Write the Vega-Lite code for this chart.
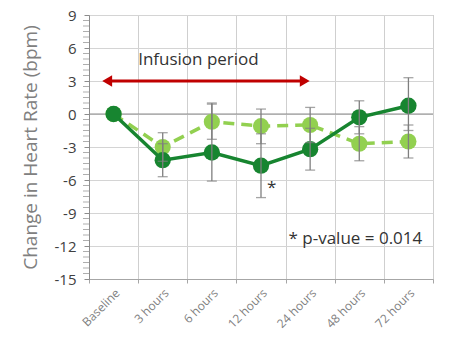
{
  "$schema": "https://vega.github.io/schema/vega-lite/v6.json",
  "width": 344,
  "height": 264,
  "autosize": {"type": "none"},
  "padding": {"left": 89, "top": 15, "right": 16, "bottom": 75},
  "background": "white",
  "config": {"view": {"stroke": "#a6a6a6"}, "font": "Open Sans"},
  "datasets": {
    "series": [
      {"t": 0, "label": "Baseline", "series": "Series 1", "value": 0, "lo": null, "hi": null},
      {"t": 1, "label": "3 hours", "series": "Series 1", "value": -4.2, "lo": -5.7, "hi": -2.7},
      {"t": 2, "label": "6 hours", "series": "Series 1", "value": -3.5, "lo": -6.1, "hi": 1.0},
      {"t": 3, "label": "12 hours", "series": "Series 1", "value": -4.7, "lo": -7.6, "hi": -1.8},
      {"t": 4, "label": "24 hours", "series": "Series 1", "value": -3.2, "lo": -5.1, "hi": -1.3},
      {"t": 5, "label": "48 hours", "series": "Series 1", "value": -0.3, "lo": -1.8, "hi": 1.2},
      {"t": 6, "label": "72 hours", "series": "Series 1", "value": 0.75, "lo": -1.5, "hi": 3.3},
      {"t": 0, "label": "Baseline", "series": "Series 2", "value": 0, "lo": null, "hi": null},
      {"t": 1, "label": "3 hours", "series": "Series 2", "value": -3.0, "lo": -4.3, "hi": -1.7},
      {"t": 2, "label": "6 hours", "series": "Series 2", "value": -0.7, "lo": -2.3, "hi": 0.9},
      {"t": 3, "label": "12 hours", "series": "Series 2", "value": -1.1, "lo": -2.7, "hi": 0.45},
      {"t": 4, "label": "24 hours", "series": "Series 2", "value": -1.0, "lo": -2.6, "hi": 0.6},
      {"t": 5, "label": "48 hours", "series": "Series 2", "value": -2.7, "lo": -4.25, "hi": -1.15},
      {"t": 6, "label": "72 hours", "series": "Series 2", "value": -2.5, "lo": -4.0, "hi": -1.0}
    ],
    "minorTicks": [
      {"t": -0.5, "value": -14.5}, {"t": -0.5, "value": -14}, {"t": -0.5, "value": -13.5}, {"t": -0.5, "value": -13}, {"t": -0.5, "value": -12.5},
      {"t": -0.5, "value": -11.5}, {"t": -0.5, "value": -11}, {"t": -0.5, "value": -10.5}, {"t": -0.5, "value": -10}, {"t": -0.5, "value": -9.5},
      {"t": -0.5, "value": -8.5}, {"t": -0.5, "value": -8}, {"t": -0.5, "value": -7.5}, {"t": -0.5, "value": -7}, {"t": -0.5, "value": -6.5},
      {"t": -0.5, "value": -5.5}, {"t": -0.5, "value": -5}, {"t": -0.5, "value": -4.5}, {"t": -0.5, "value": -4}, {"t": -0.5, "value": -3.5},
      {"t": -0.5, "value": -2.5}, {"t": -0.5, "value": -2}, {"t": -0.5, "value": -1.5}, {"t": -0.5, "value": -1}, {"t": -0.5, "value": -0.5},
      {"t": -0.5, "value": 0.5}, {"t": -0.5, "value": 1}, {"t": -0.5, "value": 1.5}, {"t": -0.5, "value": 2}, {"t": -0.5, "value": 2.5},
      {"t": -0.5, "value": 3.5}, {"t": -0.5, "value": 4}, {"t": -0.5, "value": 4.5}, {"t": -0.5, "value": 5}, {"t": -0.5, "value": 5.5},
      {"t": -0.5, "value": 6.5}, {"t": -0.5, "value": 7}, {"t": -0.5, "value": 7.5}, {"t": -0.5, "value": 8}, {"t": -0.5, "value": 8.5}
    ]
  },
  "resolve": {"scale": {"x": "independent"}, "axis": {"x": "independent"}},
  "encoding": {
    "y": {
      "field": "value", "type": "quantitative",
      "scale": {"domain": [-15, 9], "nice": false, "zero": false},
      "axis": {
        "title": "Change in Heart Rate (bpm)",
        "titleFont": "Open Sans",
        "titleFontSize": 19,
        "titleFontWeight": "normal",
        "titleColor": "#808080",
        "titlePadding": 14,
        "values": [-15, -12, -9, -6, -3, 0, 3, 6, 9],
        "labelExpr": "'' + datum.value",
        "labelFontSize": 15,
        "labelColor": "#404040",
        "labelPadding": 8,
        "labelFlush": false,
        "labelOverlap": false,
        "grid": true,
        "gridColor": "#d4d4d4",
        "tickSize": 5,
        "tickColor": "#8c8c8c",
        "domainColor": "#8c8c8c"
      }
    }
  },
  "layer": [
    {
      "data": {"values": [{"value": 0}]},
      "mark": {"type": "rule", "color": "#8c8c8c", "strokeWidth": 1.2},
      "encoding": {}
    },
    {
      "data": {"name": "minorTicks"},
      "mark": {"type": "tick", "orient": "horizontal", "color": "#8c8c8c", "thickness": 1, "size": 6, "xOffset": -3},
      "encoding": {
        "x": {"field": "t", "type": "quantitative", "scale": {"domain": [-0.5, 6.5], "nice": false, "zero": false}, "axis": null}
      }
    },
    {
      "data": {"name": "series"},
      "encoding": {
        "x": {
          "field": "label", "type": "nominal",
          "sort": ["Baseline", "3 hours", "6 hours", "12 hours", "24 hours", "48 hours", "72 hours"],
          "scale": {"type": "band", "paddingInner": 0, "paddingOuter": 0},
          "axis": {
            "title": null,
            "labelAngle": -45,
            "labelFontSize": 12,
            "labelColor": "#7f7f7f",
            "labelPadding": 4,
            "grid": true,
            "gridColor": "#cfcfcf",
            "gridOpacity": 1,
            "gridWidth": 1,
            "tickBand": "extent",
            "ticks": true,
            "tickSize": 4,
            "tickColor": "#a6a6a6",
            "domainColor": "#a6a6a6"
          }
        }
      },
      "layer": [
        {
          "transform": [{"filter": "datum.series === 'Series 2'"}],
          "mark": {"type": "line", "color": "#92d050", "strokeWidth": 3.5, "strokeDash": [11, 7]}
        },
        {
          "transform": [{"filter": "datum.series === 'Series 2'"}],
          "mark": {"type": "circle", "color": "#92d050", "size": 260, "opacity": 1}
        },
        {
          "transform": [{"filter": "datum.series === 'Series 1'"}],
          "mark": {"type": "line", "color": "#178530", "strokeWidth": 3.5}
        },
        {
          "transform": [{"filter": "datum.series === 'Series 1'"}],
          "mark": {"type": "circle", "color": "#178530", "size": 265, "opacity": 1}
        },
        {
          "transform": [{"filter": "datum.lo != null"}],
          "mark": {"type": "rule", "color": "#7f7f7f", "strokeWidth": 1.3},
          "encoding": {
            "y": {"field": "lo", "type": "quantitative", "title": "Change in Heart Rate (bpm)"},
            "y2": {"field": "hi"}
          }
        },
        {
          "transform": [{"filter": "datum.lo != null"}],
          "mark": {"type": "tick", "orient": "horizontal", "color": "#7f7f7f", "thickness": 1.3, "size": 10},
          "encoding": {
            "y": {"field": "lo", "type": "quantitative", "title": "Change in Heart Rate (bpm)"}
          }
        },
        {
          "transform": [{"filter": "datum.lo != null"}],
          "mark": {"type": "tick", "orient": "horizontal", "color": "#7f7f7f", "thickness": 1.3, "size": 10},
          "encoding": {
            "y": {"field": "hi", "type": "quantitative", "title": "Change in Heart Rate (bpm)"}
          }
        }
      ]
    },
    {
      "data": {"values": [{"t": -0.13, "t2": 3.89, "value": 3}]},
      "encoding": {
        "x": {"field": "t", "type": "quantitative", "scale": {"domain": [-0.5, 6.5], "nice": false, "zero": false}, "axis": null}
      },
      "layer": [
        {
          "mark": {"type": "rule", "color": "#c00000", "strokeWidth": 3},
          "encoding": {"x2": {"field": "t2"}}
        },
        {
          "mark": {"type": "point", "shape": "triangle-left", "filled": true, "color": "#c00000", "size": 130, "opacity": 1}
        },
        {
          "mark": {"type": "point", "shape": "triangle-right", "filled": true, "color": "#c00000", "size": 130, "opacity": 1},
          "encoding": {"x": {"field": "t2", "type": "quantitative", "scale": {"domain": [-0.5, 6.5], "nice": false, "zero": false}, "axis": null}}
        }
      ]
    },
    {
      "data": {"values": [
        {"t": 0.5, "value": 4.9, "text": "Infusion period"},
        {"t": 3.12, "value": -6.7, "text": "*"},
        {"t": 3.56, "value": -11.4, "text": "* p-value = 0.014"}
      ]},
      "mark": {"type": "text", "align": "left", "baseline": "middle", "fontSize": 17, "color": "#333333", "font": "Open Sans"},
      "encoding": {
        "x": {"field": "t", "type": "quantitative", "scale": {"domain": [-0.5, 6.5], "nice": false, "zero": false}, "axis": null},
        "text": {"field": "text"}
      }
    }
  ]
}
